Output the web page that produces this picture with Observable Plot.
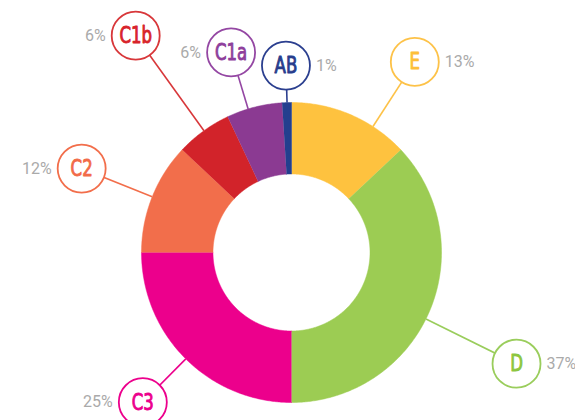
<!DOCTYPE html>
<html>
<head>
<meta charset="utf-8">
<script src="https://cdn.jsdelivr.net/npm/d3@7"></script>
<script src="https://cdn.jsdelivr.net/npm/@observablehq/plot@0.6"></script>
<style>
  body { margin: 0; background: #fff; }
  #chart svg { display: block; }
</style>
</head>
<body>
<div id="chart"></div>
<script>
// ---- data ----
const categories = ["E", "D", "C3", "C2", "C1b", "C1a", "AB"];
const shares     = [13, 37, 25, 12, 6, 6, 1];
const pctLabels  = ["13%", "37%", "25%", "12%", "6%", "6%", "1%"];

// ---- styling / layout (not data) ----
const sliceColors = ["#FEC23F", "#9CCC53", "#EC008C", "#F26E4B", "#D2232A", "#8B3A92", "#233F8E"];
const labelColors = ["#FDC248", "#9ACD5C", "#EC008C", "#F26E4B", "#D8373A", "#9447A3", "#2B3F8F"];
const textColors  = ["#FDBE3A", "#8CC63F", "#EC008C", "#F26B48", "#D8232A", "#8E3E9C", "#273D8C"];
const labelAngle  = [32.9, 116.3, 224.8, 291.8, 324.3, 343.2, 358.3]; // degrees clockwise from top
const labelRadius = [227, 251, 211, 226, 267, 209, 187];
const pctSide     = [1, 1, -1, -1, -1, -1, 1];

const W = 575, H = 420, CX = 291, CY = 252;
const R_IN = 78.5, R_OUT = 150, CIRCLE_R = 24;

// ---- build slice outlines from d3.pie angles ----
const arcs = d3.pie().sort(null).value(d => d)(shares);
const slicePts = [];
arcs.forEach((a, i) => {
  const n = Math.max(4, Math.ceil((a.endAngle - a.startAngle) / (Math.PI / 360)));
  for (let k = 0; k <= n; k++) {
    const t = a.startAngle + (a.endAngle - a.startAngle) * k / n;
    slicePts.push({cat: categories[i], color: sliceColors[i], x: R_OUT * Math.sin(t), y: R_OUT * Math.cos(t)});
  }
  for (let k = n; k >= 0; k--) {
    const t = a.startAngle + (a.endAngle - a.startAngle) * k / n;
    slicePts.push({cat: categories[i], color: sliceColors[i], x: R_IN * Math.sin(t), y: R_IN * Math.cos(t)});
  }
});

const labels = categories.map((c, i) => {
  const t = labelAngle[i] * Math.PI / 180;
  return {
    cat: c, pct: pctLabels[i], side: pctSide[i],
    line: labelColors[i], ring: labelColors[i], txt: textColors[i],
    x0: R_OUT * Math.sin(t), y0: R_OUT * Math.cos(t),
    x: labelRadius[i] * Math.sin(t), y: labelRadius[i] * Math.cos(t)
  };
});

const labelFont = "'DejaVu Sans Condensed', 'DejaVu Sans', sans-serif";
const pctFont = "Roboto, 'Open Sans', sans-serif";

const chart = Plot.plot({
  width: W, height: H,
  margin: 0,
  x: {domain: [-CX, W - CX], axis: null},
  y: {domain: [-(H - CY), CY], axis: null},
  color: {type: "identity"},
  marks: [
    Plot.link(labels, {x1: "x0", y1: "y0", x2: "x", y2: "y", stroke: "line", strokeWidth: 1.6}),
    Plot.line(slicePts, {x: "x", y: "y", z: "cat", fill: "color", stroke: "color", strokeWidth: 0.5, curve: "linear"}),
    Plot.dot(labels, {x: "x", y: "y", r: CIRCLE_R, fill: "white", stroke: "ring", strokeWidth: 1.8}),
    Plot.text(labels, {x: "x", y: "y", text: "cat", fill: "txt", stroke: "txt", strokeWidth: 0.9, fontSize: 23, fontFamily: labelFont}),
    Plot.text(labels.filter(d => d.side < 0), {x: "x", y: "y", text: "pct", dx: -(CIRCLE_R + 6), textAnchor: "end", fill: "#AAAAAA", fontSize: 16, fontFamily: pctFont}),
    Plot.text(labels.filter(d => d.side > 0), {x: "x", y: "y", text: "pct", dx: CIRCLE_R + 6, textAnchor: "start", fill: "#AAAAAA", fontSize: 16, fontFamily: pctFont})
  ]
});

// condense the category labels horizontally (no condensed geometric font available)
const svgEl = chart.tagName.toLowerCase() === "svg" ? chart : chart.querySelector("svg");
svgEl.querySelectorAll("text").forEach(t => {
  if (!categories.includes(t.textContent.trim())) return;
  const tr = t.getAttribute("transform") || "";
  t.setAttribute("transform", (tr + " scale(0.8,1)").trim());
});
document.getElementById("chart").appendChild(chart);
</script>
</body>
</html>
